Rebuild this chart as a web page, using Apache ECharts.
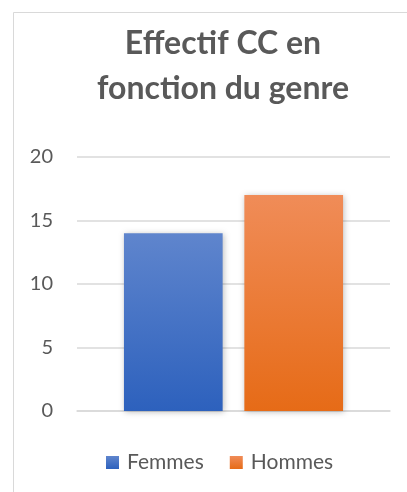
<!DOCTYPE html>
<html>
<head>
<meta charset="utf-8">
<script src="https://cdn.jsdelivr.net/npm/echarts@6/dist/echarts.min.js"></script>
<style>html,body{margin:0;padding:0;background:#fff;}#c{width:407px;height:492px;}</style>
</head>
<body>
<div id="c"></div>
<script>
var titleText = 'Effectif CC en\nfonction du genre';
var categories = ['Effectif'];
var seriesNames = ['Femmes', 'Hommes'];
var femmesValues = [14];
var hommesValues = [17];
var yTicks = { min: 0, max: 20, interval: 5 };

var chart = echarts.init(document.getElementById('c'), null, { renderer: 'canvas' });
var grad = function (a, b) {
  return new echarts.graphic.LinearGradient(0, 0, 0, 1, [{ offset: 0, color: a }, { offset: 1, color: b }]);
};
var font = 'Lato, "Open Sans", sans-serif';
chart.setOption({
  backgroundColor: '#fff',
  animation: false,
  graphic: [{
    type: 'rect', silent: true, z: -1,
    shape: { x: 13.5, y: 12.5, width: 600, height: 600 },
    style: { fill: 'none', stroke: '#D9D9D9', lineWidth: 1 }
  }],
  title: {
    text: titleText,
    left: 218, top: 16, textAlign: 'center',
    textStyle: { fontFamily: font, fontWeight: 'bold', fontSize: 32, lineHeight: 45, color: '#595959' }
  },
  legend: {
    data: seriesNames,
    bottom: 14, left: 101,
    itemWidth: 13, itemHeight: 13, itemGap: 26,
    textStyle: { fontFamily: font, fontSize: 21, color: '#595959', padding: [0, 0, 0, 3] },
    icon: 'rect'
  },
  grid: { left: 77, right: 17, top: 157, bottom: 81, containLabel: false },
  xAxis: {
    type: 'category', data: categories,
    axisLine: { show: true, lineStyle: { color: '#D9D9D9', width: 1.5 } },
    axisTick: { show: false }, axisLabel: { show: false }
  },
  yAxis: {
    type: 'value', min: yTicks.min, max: yTicks.max, interval: yTicks.interval,
    axisLine: { show: false }, axisTick: { show: false },
    splitLine: { lineStyle: { color: '#D9D9D9', width: 1.5 } },
    axisLabel: { fontFamily: font, fontSize: 20, color: '#595959', margin: 24 }
  },
  series: [
    {
      name: seriesNames[0], type: 'bar', data: femmesValues,
      barGap: '22%', barCategoryGap: '30%',
      itemStyle: { color: grad('#5F85CD', '#2D61BD'), shadowBlur: 6, shadowColor: 'rgba(0,0,0,0.25)', shadowOffsetX: 1, shadowOffsetY: 1 }
    },
    {
      name: seriesNames[1], type: 'bar', data: hommesValues,
      barGap: '22%', barCategoryGap: '30%',
      itemStyle: { color: grad('#F08C58', '#E66B17'), shadowBlur: 6, shadowColor: 'rgba(0,0,0,0.25)', shadowOffsetX: 1, shadowOffsetY: 1 }
    }
  ]
});
</script>
</body>
</html>
